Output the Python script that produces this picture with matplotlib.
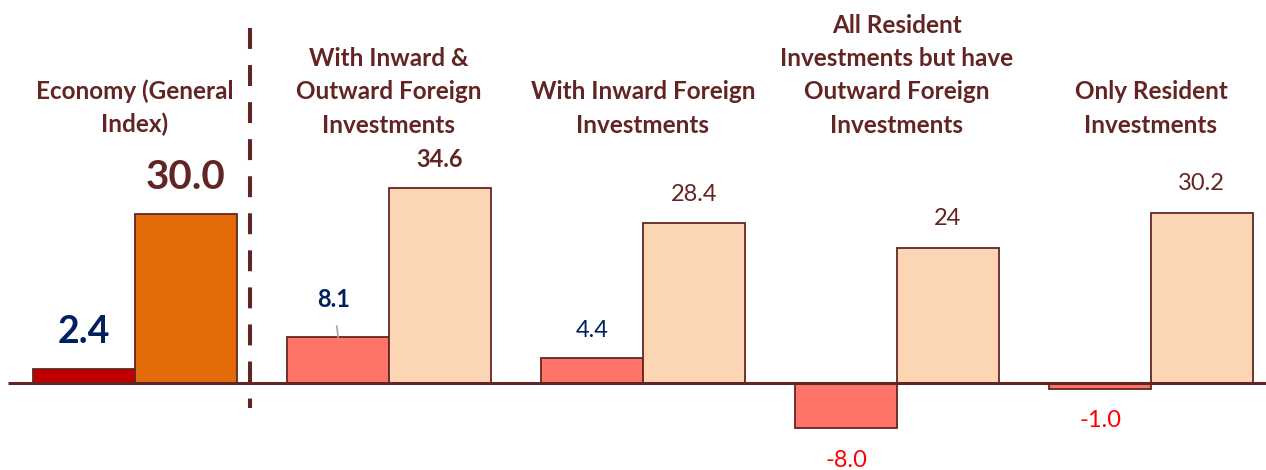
import numpy as np
import matplotlib
matplotlib.use("Agg")
import matplotlib.pyplot as plt

plt.rcParams['font.family'] = ['Lato', 'DejaVu Sans']

categories = ["Economy (General\nIndex)",
              "With Inward &\nOutward Foreign\nInvestments",
              "With Inward Foreign\nInvestments",
              "All Resident\nInvestments but have\nOutward Foreign\nInvestments",
              "Only Resident\nInvestments"]
first_vals = [2.4, 8.1, 4.4, -8.0, -1.0]
second_vals = [30.0, 34.6, 28.4, 24, 30.2]
first_text = ["2.4", "8.1", "4.4", "-8.0", "-1.0"]
second_text = ["30.0", "34.6", "28.4", "24", "30.2"]

brown = "#632523"
navy = "#002060"
red = "#FF0000"

first_colors = ["#C00000"] + ["#FF7468"] * 4
second_colors = ["#E36C09"] + ["#FCD5B4"] * 4

fig = plt.figure(figsize=(12.66, 4.70), dpi=100)
ax = fig.add_axes([0, 0, 1, 1])
ax.set_xlim(-135 / 254, 1131 / 254)
ax.set_ylim(-87 / 5.633, 383 / 5.633)
ax.axis("off")

x = np.arange(len(categories))
w = 0.4
b1 = ax.bar(x - w / 2, first_vals, w, color=first_colors, edgecolor=brown, linewidth=1.3, zorder=2)
b2 = ax.bar(x + w / 2, second_vals, w, color=second_colors, edgecolor=brown, linewidth=1.3, zorder=2)

# baseline over the bars
ax.plot([-0.5, ax.get_xlim()[1]], [0, 0], color=brown, lw=2.2, zorder=3, solid_capstyle="butt")

# dashed separator
ax.plot([0.453, 0.453], [63.0, -4.4], color=brown, lw=2.9, linestyle=(0, (5.2, 4.0)), zorder=3)

# category titles
for i, c in enumerate(categories):
    ax.text(x[i], 43.75, c, ha="center", va="bottom", fontsize=17.5, fontweight="bold",
            color=brown, linespacing=1.53)

# value labels
def lab(xp, yv, txt, off, size, weight, color):
    ax.annotate(txt, (xp, yv), xytext=(0, off), textcoords="offset pixels",
                ha="center", va="center", fontsize=size, fontweight=weight, color=color)

for i in range(len(x)):
    v1 = first_vals[i]
    v2 = second_vals[i]
    if i == 0:
        lab(x[i] - w / 2, v1, first_text[i], 37, 27, "bold", navy)
        lab(x[i] + w / 2, v2, second_text[i], 37, 29, "bold", brown)
    elif i == 1:
        lab(x[i] + w / 2, v2, second_text[i], 29, 17, "bold", brown)
        ax.annotate(first_text[i], (x[i] - w / 2, v1), xytext=(-5, 38), textcoords="offset pixels",
                    ha="center", va="center", fontsize=17, fontweight="bold", color=navy,
                    arrowprops=dict(arrowstyle="-", color="#A6A6A6", lw=1.2, shrinkA=9, shrinkB=0))
    else:
        if v1 >= 0:
            lab(x[i] - w / 2, v1, first_text[i], 28, 17, "normal", navy)
        else:
            lab(x[i] - w / 2, v1, first_text[i], -32, 17, "normal", red)
        lab(x[i] + w / 2, v2, second_text[i], 29, 17, "normal", brown)

fig.savefig("out.png", dpi=100)
